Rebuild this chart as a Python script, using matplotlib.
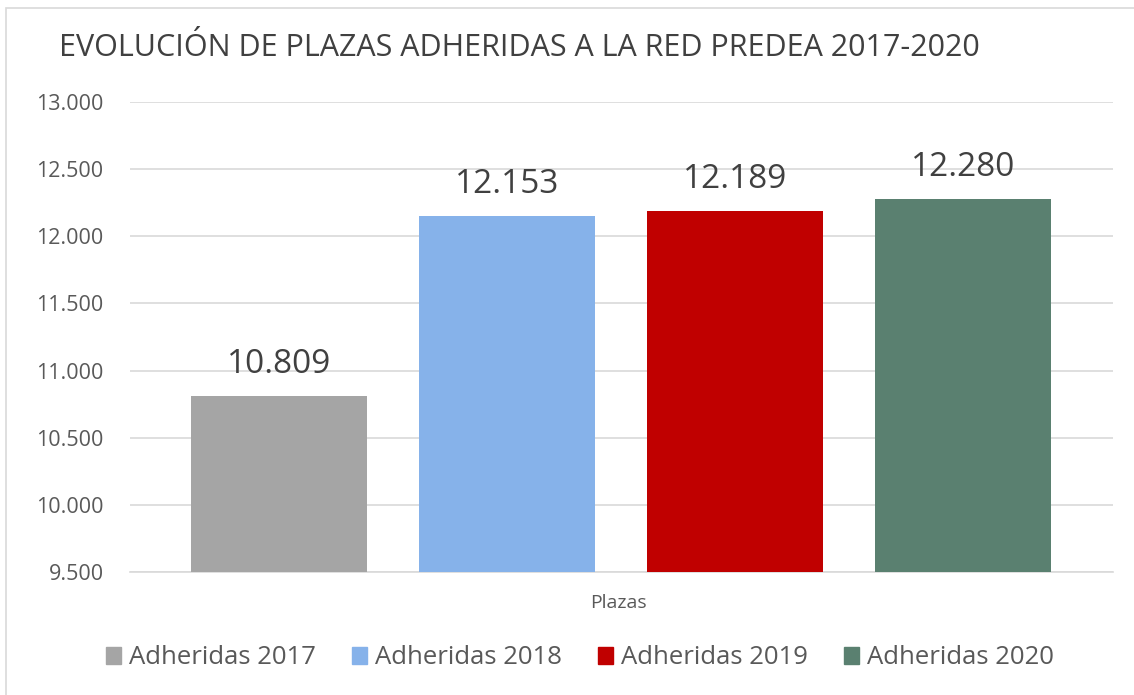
import matplotlib.pyplot as plt
from matplotlib.patches import Rectangle
from matplotlib.ticker import FuncFormatter

series = ["Adheridas 2017", "Adheridas 2018", "Adheridas 2019", "Adheridas 2020"]
values = [10809, 12153, 12189, 12280]
colors = ["#a5a5a5", "#86b2ea", "#c00000", "#5a8070"]
category = "Plazas"
title = "EVOLUCIÓN DE PLAZAS ADHERIDAS A LA RED PREDEA 2017-2020"

plt.rcParams["font.family"] = ["Open Sans", "DejaVu Sans"]

def miles(v, pos=None):
    return f"{int(round(v)):,}".replace(",", ".")

fig = plt.figure(figsize=(11.34, 6.95), dpi=100)
W, H = 1134, 695

# chart border (only top/left visible in the crop)
fig.patches.append(Rectangle((6 / W, -0.1), 1.2, 1 - 8 / H + 0.1, transform=fig.transFigure,
                             fill=False, edgecolor="#d9d9d9", linewidth=1.2))

ax = fig.add_axes([130 / W, 1 - 572 / H, (1113 - 130) / W, (572 - 102) / H])

x = list(range(len(values)))
bars = ax.bar(x, values, width=0.773, color=colors, zorder=3)
ax.set_xlim(-0.652, 3.658)
ax.set_ylim(9500, 13000)
ax.set_yticks(range(9500, 13001, 500))
ax.yaxis.set_major_formatter(FuncFormatter(miles))
ax.set_xticks([])

for v, xi in zip(values, x):
    ax.text(xi, v + 110, miles(v), ha="center", va="bottom", fontsize=24, color="#404040")

ax.grid(axis="y", color="#d9d9d9", linewidth=1.2, zorder=0)
for s in ["top", "right", "left"]:
    ax.spines[s].set_visible(False)
ax.spines["bottom"].set_color("#d9d9d9")
ax.spines["bottom"].set_linewidth(1.2)
ax.tick_params(axis="y", length=0, pad=19, labelsize=15.5, labelcolor="#595959")

fig.text(618 / W, 1 - 603 / H, category, ha="center", va="center", fontsize=14, color="#595959")
fig.text(519 / W, 1 - 48 / H, title, ha="center", va="center", fontsize=22, color="#404040")

handles = [Rectangle((0, 0), 1, 1, color=c) for c in colors]
fig.legend(handles, series, loc="center", bbox_to_anchor=(580 / W, 1 - 658 / H), ncol=4,
           frameon=False, fontsize=18.5, labelcolor="#595959", handlelength=0.6, handleheight=0.6,
           handletextpad=0.3, columnspacing=1.4)

fig.savefig("out.png", dpi=100)
